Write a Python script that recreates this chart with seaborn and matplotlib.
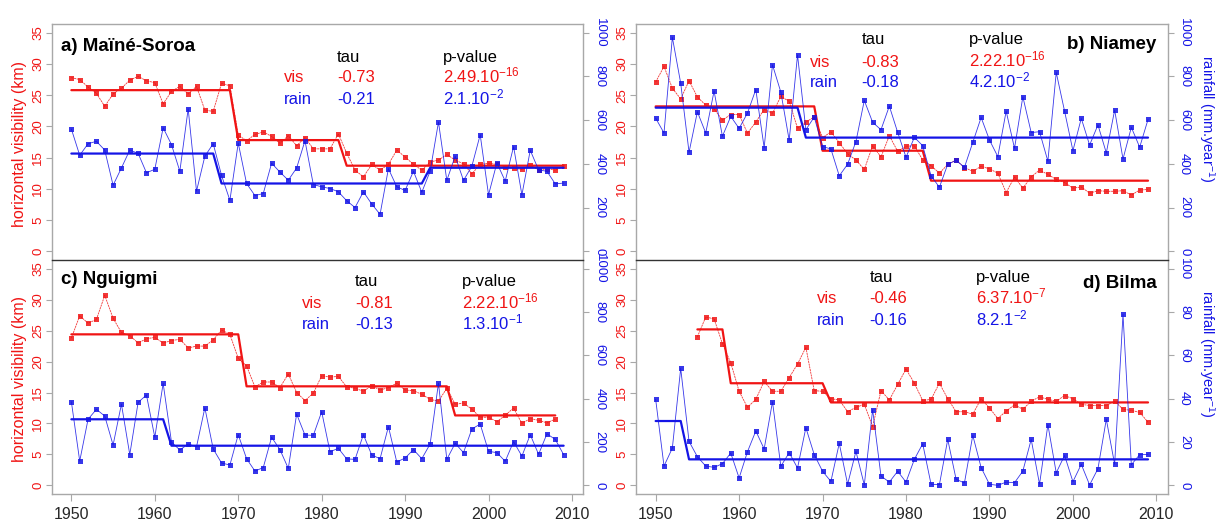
import numpy as np
import matplotlib
matplotlib.use("Agg")
import matplotlib.pyplot as plt
import seaborn as sns

years = np.arange(1950, 2010)

# a) Maine-Soroa
vis_a = [27.8, 27.5, 26.3, 25.3, 23.2, 25.2, 26.1, 27.4, 28.0, 27.3,
         27.0, 23.6, 25.6, 26.4, 25.2, 26.4, 22.6, 22.4, 26.9, 26.5,
         18.6, 17.7, 18.7, 19.1, 18.4, 17.3, 18.5, 16.9, 18.2, 16.4,
         16.4, 16.4, 18.8, 15.7, 13.0, 11.9, 13.9, 13.0, 13.9, 16.2,
         15.1, 13.9, 13.0, 14.3, 14.6, 15.5, 14.6, 14.0, 12.4, 13.9,
         14.1, 13.9, 13.5, 13.3, 13.1, 13.8, 13.0, 13.2, 13.0, 13.6]
rain_a = [559, 439, 492, 503, 463, 302, 381, 463, 448, 359,
          375, 565, 488, 366, 652, 275, 435, 492, 347, 233,
          495, 310, 255, 264, 403, 362, 325, 381, 506, 305,
          295, 287, 272, 231, 200, 272, 216, 169, 378, 295,
          278, 366, 270, 366, 591, 324, 435, 324, 389, 533,
          258, 404, 321, 479, 258, 462, 372, 366, 308, 312]
vis_a_steps = [(1950, 1969, 25.8), (1970, 1982, 17.8), (1983, 2009, 13.7)]
rain_a_steps = [(1950, 1967, 447), (1968, 1992, 310), (1993, 2009, 382)]

# b) Niamey
vis_b = [27.1, 29.6, 26.1, 24.4, 27.3, 24.7, 23.4, 22.8, 21.0, 21.9,
         21.9, 18.9, 20.7, 22.7, 22.1, 24.8, 24.0, 19.7, 20.7, 21.5,
         18.2, 19.1, 17.4, 15.6, 14.6, 13.1, 16.9, 15.1, 18.5, 16.0,
         16.8, 16.9, 14.6, 13.7, 12.5, 13.9, 14.6, 13.4, 12.8, 13.6,
         13.2, 12.5, 9.4, 11.9, 10.1, 11.9, 13.0, 12.3, 11.5, 11.0,
         10.1, 10.3, 9.3, 9.7, 9.6, 9.6, 9.7, 9.0, 9.8, 9.9]
rain_b = [609, 541, 979, 769, 453, 638, 541, 733, 526, 617,
          562, 632, 740, 474, 853, 728, 508, 898, 556, 614,
          479, 468, 345, 398, 502, 690, 590, 556, 664, 544,
          430, 521, 483, 345, 293, 398, 416, 384, 498, 612,
          509, 433, 641, 471, 707, 543, 547, 412, 818, 641,
          460, 608, 486, 578, 450, 646, 422, 567, 476, 603]
vis_b_steps = [(1950, 1969, 23.2), (1970, 1982, 16.1), (1983, 2009, 11.3)]
rain_b_steps = [(1950, 1967, 657), (1968, 2009, 520)]

# c) Nguigmi (visibility stops in 2008)
vis_c = [23.8, 27.4, 26.2, 26.8, 30.7, 27.0, 24.7, 24.2, 23.0, 23.7,
         23.9, 23.0, 23.4, 23.6, 22.2, 22.5, 22.5, 23.5, 25.1, 24.4,
         20.5, 19.3, 15.9, 16.7, 16.7, 15.8, 18.0, 15.0, 13.7, 14.9,
         17.7, 17.5, 17.6, 15.9, 15.7, 15.2, 16.1, 15.4, 15.8, 16.5,
         15.4, 15.3, 14.7, 13.9, 13.6, 15.7, 13.1, 13.3, 12.3, 11.0,
         11.0, 10.3, 11.3, 12.5, 10.0, 10.8, 10.5, 10.1, 10.7]
rain_c = [386, 112, 305, 351, 320, 186, 375, 142, 383, 417,
          222, 471, 200, 163, 191, 178, 358, 168, 103, 94,
          234, 123, 66, 82, 222, 165, 78, 329, 232, 231,
          340, 155, 171, 122, 120, 234, 140, 123, 271, 108,
          126, 165, 123, 191, 472, 120, 194, 151, 260, 283,
          157, 151, 111, 202, 135, 234, 143, 238, 212, 142]
vis_c_steps = [(1950, 1970, 24.4), (1971, 1995, 16.0), (1996, 2008, 11.3)]
rain_c_steps = [(1950, 1961, 305), (1962, 2009, 183)]

# d) Bilma (visibility starts in 1955)
vis_d = [24.0, 27.2, 26.9, 22.9, 19.8, 15.2, 12.6, 13.9, 16.8, 15.2,
         15.2, 17.4, 19.6, 22.3, 15.3, 15.2, 14.0, 13.8, 11.9, 12.6,
         13.1, 9.5, 15.3, 13.8, 16.3, 18.8, 16.5, 13.7, 13.9, 16.5,
         14.0, 11.9, 11.9, 11.5, 14.0, 12.5, 10.8, 12.0, 13.0, 12.3,
         13.6, 14.3, 13.9, 13.6, 14.5, 14.0, 13.1, 12.9, 12.9, 12.9,
         13.6, 12.3, 12.1, 11.8, 10.2]
rain_d = [39.7, 8.9, 17.2, 54.0, 20.3, 13.2, 8.9, 8.3, 10.0, 14.9,
          3.4, 15.5, 25.1, 16.8, 38.6, 8.8, 15.1, 8.0, 26.6, 14.2,
          6.5, 1.8, 19.4, 0.5, 15.7, 0.2, 34.9, 4.3, 1.5, 6.5,
          1.5, 12.0, 19.2, 0.5, 0.3, 21.2, 2.8, 1.1, 23.1, 8.2,
          0.5, 0.0, 1.5, 1.2, 6.6, 21.2, 0.5, 28.0, 5.8, 13.8,
          1.7, 9.7, 0.2, 7.7, 30.5, 9.7, 78.9, 9.5, 14.2, 14.3]
vis_d_steps = [(1955, 1958, 25.2), (1959, 1970, 16.5), (1971, 2009, 13.4)]
rain_d_steps = [(1950, 1953, 29.7), (1954, 2009, 12.0)]

titles = ["a) Maïné-Soroa", "b) Niamey", "c) Nguigmi", "d) Bilma"]
tau_vis = ["-0.73", "-0.83", "-0.81", "-0.46"]
tau_rain = ["-0.21", "-0.18", "-0.13", "-0.16"]
p_vis = [r"2.49.10$^{-16}$", r"2.22.10$^{-16}$", r"2.22.10$^{-16}$", r"6.37.10$^{-7}$"]
p_rain = [r"2.1.10$^{-2}$", r"4.2.10$^{-2}$", r"1.3.10$^{-1}$", r"8.2.1$^{-2}$"]

RED = "#f01414"
BLUE = "#1414e6"
GRAY = "#a8a8a8"


def expand(steps):
    xs, ys = [], []
    for first, last, level in steps:
        for yr in range(first, last + 1):
            xs.append(yr)
            ys.append(level)
    return xs, ys


sns.set_style("white")
plt.rcParams["font.family"] = ["Liberation Sans", "DejaVu Sans"]
plt.rcParams["mathtext.fontset"] = "custom"
plt.rcParams["mathtext.rm"] = "Liberation Sans"
plt.rcParams["mathtext.it"] = "Liberation Sans:italic"
plt.rcParams["mathtext.bf"] = "Liberation Sans:bold"

fig = plt.figure(figsize=(12.16, 5.21), dpi=100)

panels = [
    dict(vis_x=years, vis=vis_a, rain=rain_a, vs=vis_a_steps, rs=rain_a_steps,
         pos=[0.0425, 0.501, 0.4372, 0.453], rmax=1000,
         lx=0.436, tx=0.537, px=0.736, rows=(0.840, 0.753, 0.661),
         title_xy=(0.0175, 0.887), title_ha="left"),
    dict(vis_x=years, vis=vis_b, rain=rain_b, vs=vis_b_steps, rs=rain_b_steps,
         pos=[0.523, 0.501, 0.4373, 0.453], rmax=1000,
         lx=0.327, tx=0.4245, px=0.627, rows=(0.914, 0.819, 0.732),
         title_xy=(0.979, 0.894), title_ha="right"),
    dict(vis_x=years[:len(vis_c)], vis=vis_c, rain=rain_c, vs=vis_c_steps, rs=rain_c_steps,
         pos=[0.0425, 0.0518, 0.4372, 0.449], rmax=1000,
         lx=0.470, tx=0.5705, px=0.771, rows=(0.890, 0.794, 0.705),
         title_xy=(0.0175, 0.896), title_ha="left"),
    dict(vis_x=years[5:], vis=vis_d, rain=rain_d, vs=vis_d_steps, rs=rain_d_steps,
         pos=[0.523, 0.0518, 0.4373, 0.449], rmax=100,
         lx=0.341, tx=0.439, px=0.640, rows=(0.907, 0.815, 0.722),
         title_xy=(0.979, 0.879), title_ha="right"),
]

for i, p in enumerate(panels):
    ax = fig.add_axes(p["pos"])
    ax2 = ax.twinx()
    bottom_row = i >= 2
    right_col = i % 2 == 1

    # visibility (left axis)
    sns.lineplot(x=np.asarray(p["vis_x"]), y=np.asarray(p["vis"], dtype=float), ax=ax,
                 color=RED, lw=0.6, alpha=0.85, linestyle=(0, (2.5, 0.8)), marker="s",
                 markersize=3.6, markeredgewidth=0, estimator=None, errorbar=None)
    sx, sy = expand(p["vs"])
    sns.lineplot(x=np.asarray(sx), y=np.asarray(sy, dtype=float), ax=ax, color=RED,
                 lw=1.6, estimator=None, errorbar=None)

    # rainfall (right axis)
    sns.lineplot(x=years, y=np.asarray(p["rain"], dtype=float), ax=ax2,
                 color=BLUE, lw=0.6, alpha=0.85, marker="s", markersize=3.6,
                 markeredgewidth=0, estimator=None, errorbar=None)
    sx, sy = expand(p["rs"])
    sns.lineplot(x=np.asarray(sx), y=np.asarray(sy, dtype=float), ax=ax2, color=BLUE,
                 lw=1.6, estimator=None, errorbar=None)

    ax.set_xlim(1947.64, 2011.36)
    ax.set_ylim(-1.4, 36.4)
    ax2.set_ylim(-0.04 * p["rmax"], 1.04 * p["rmax"])
    ax.set_yticks(np.arange(0, 36, 5))
    ax2.set_yticks(np.arange(0, p["rmax"] + 1, p["rmax"] // 5))
    ax.set_xticks(np.arange(1950, 2011, 10))

    for s in ax.spines.values():
        s.set_color(GRAY)
        s.set_linewidth(1.0)
    if bottom_row:
        ax.spines["top"].set_color("#333333")
    else:
        ax.spines["bottom"].set_visible(False)
    for s in ax2.spines.values():
        s.set_visible(False)

    ax.tick_params(axis="y", which="both", left=True, length=4, color=GRAY,
                   labelcolor=RED, labelsize=9.5, labelrotation=90, pad=1.5)
    ax2.tick_params(axis="y", which="both", right=True, length=4, color=GRAY,
                    labelcolor=BLUE, labelsize=9.5, labelrotation=-90, pad=3.5)
    for t in ax.get_yticklabels():
        t.set_va("center")
    for t in ax2.get_yticklabels():
        t.set_va("center")
    if bottom_row:
        ax.tick_params(axis="x", bottom=True, length=5, color=GRAY,
                       labelsize=11.5, pad=4)
    else:
        ax.tick_params(axis="x", bottom=False, labelbottom=False)

    ax.set_xlabel("")
    ax2.set_xlabel("")
    if not right_col:
        ax.set_ylabel("horizontal visibility (km)", color=RED, fontsize=11.5)
        ax.yaxis.set_label_coords(-0.047, 0.49)
        ax2.set_ylabel("")
    else:
        ax.set_ylabel("")
        ax2.set_ylabel(r"rainfall (mm.year$^{-1}$)", color=BLUE, fontsize=10.5,
                       rotation=-90, va="bottom")
        ax2.yaxis.set_label_coords(1.053, 0.6)

    # statistics block
    r0, r1, r2 = p["rows"]
    fs = 12
    ax.text(p["tx"], r0, "tau", transform=ax.transAxes, fontsize=fs, color="black", va="baseline")
    ax.text(p["px"], r0, "p-value", transform=ax.transAxes, fontsize=fs, color="black", va="baseline")
    ax.text(p["lx"], r1, "vis", transform=ax.transAxes, fontsize=fs, color=RED, va="baseline")
    ax.text(p["tx"], r1, tau_vis[i], transform=ax.transAxes, fontsize=fs, color=RED, va="baseline")
    ax.text(p["px"], r1, p_vis[i], transform=ax.transAxes, fontsize=fs, color=RED, va="baseline")
    ax.text(p["lx"], r2, "rain", transform=ax.transAxes, fontsize=fs, color=BLUE, va="baseline")
    ax.text(p["tx"], r2, tau_rain[i], transform=ax.transAxes, fontsize=fs, color=BLUE, va="baseline")
    ax.text(p["px"], r2, p_rain[i], transform=ax.transAxes, fontsize=fs, color=BLUE, va="baseline")

    tx, ty = p["title_xy"]
    ax.text(tx, ty, titles[i], transform=ax.transAxes, fontsize=13.5, fontweight="bold",
            ha=p["title_ha"], va="baseline", color="black")

fig.savefig("out.png", dpi=100)
